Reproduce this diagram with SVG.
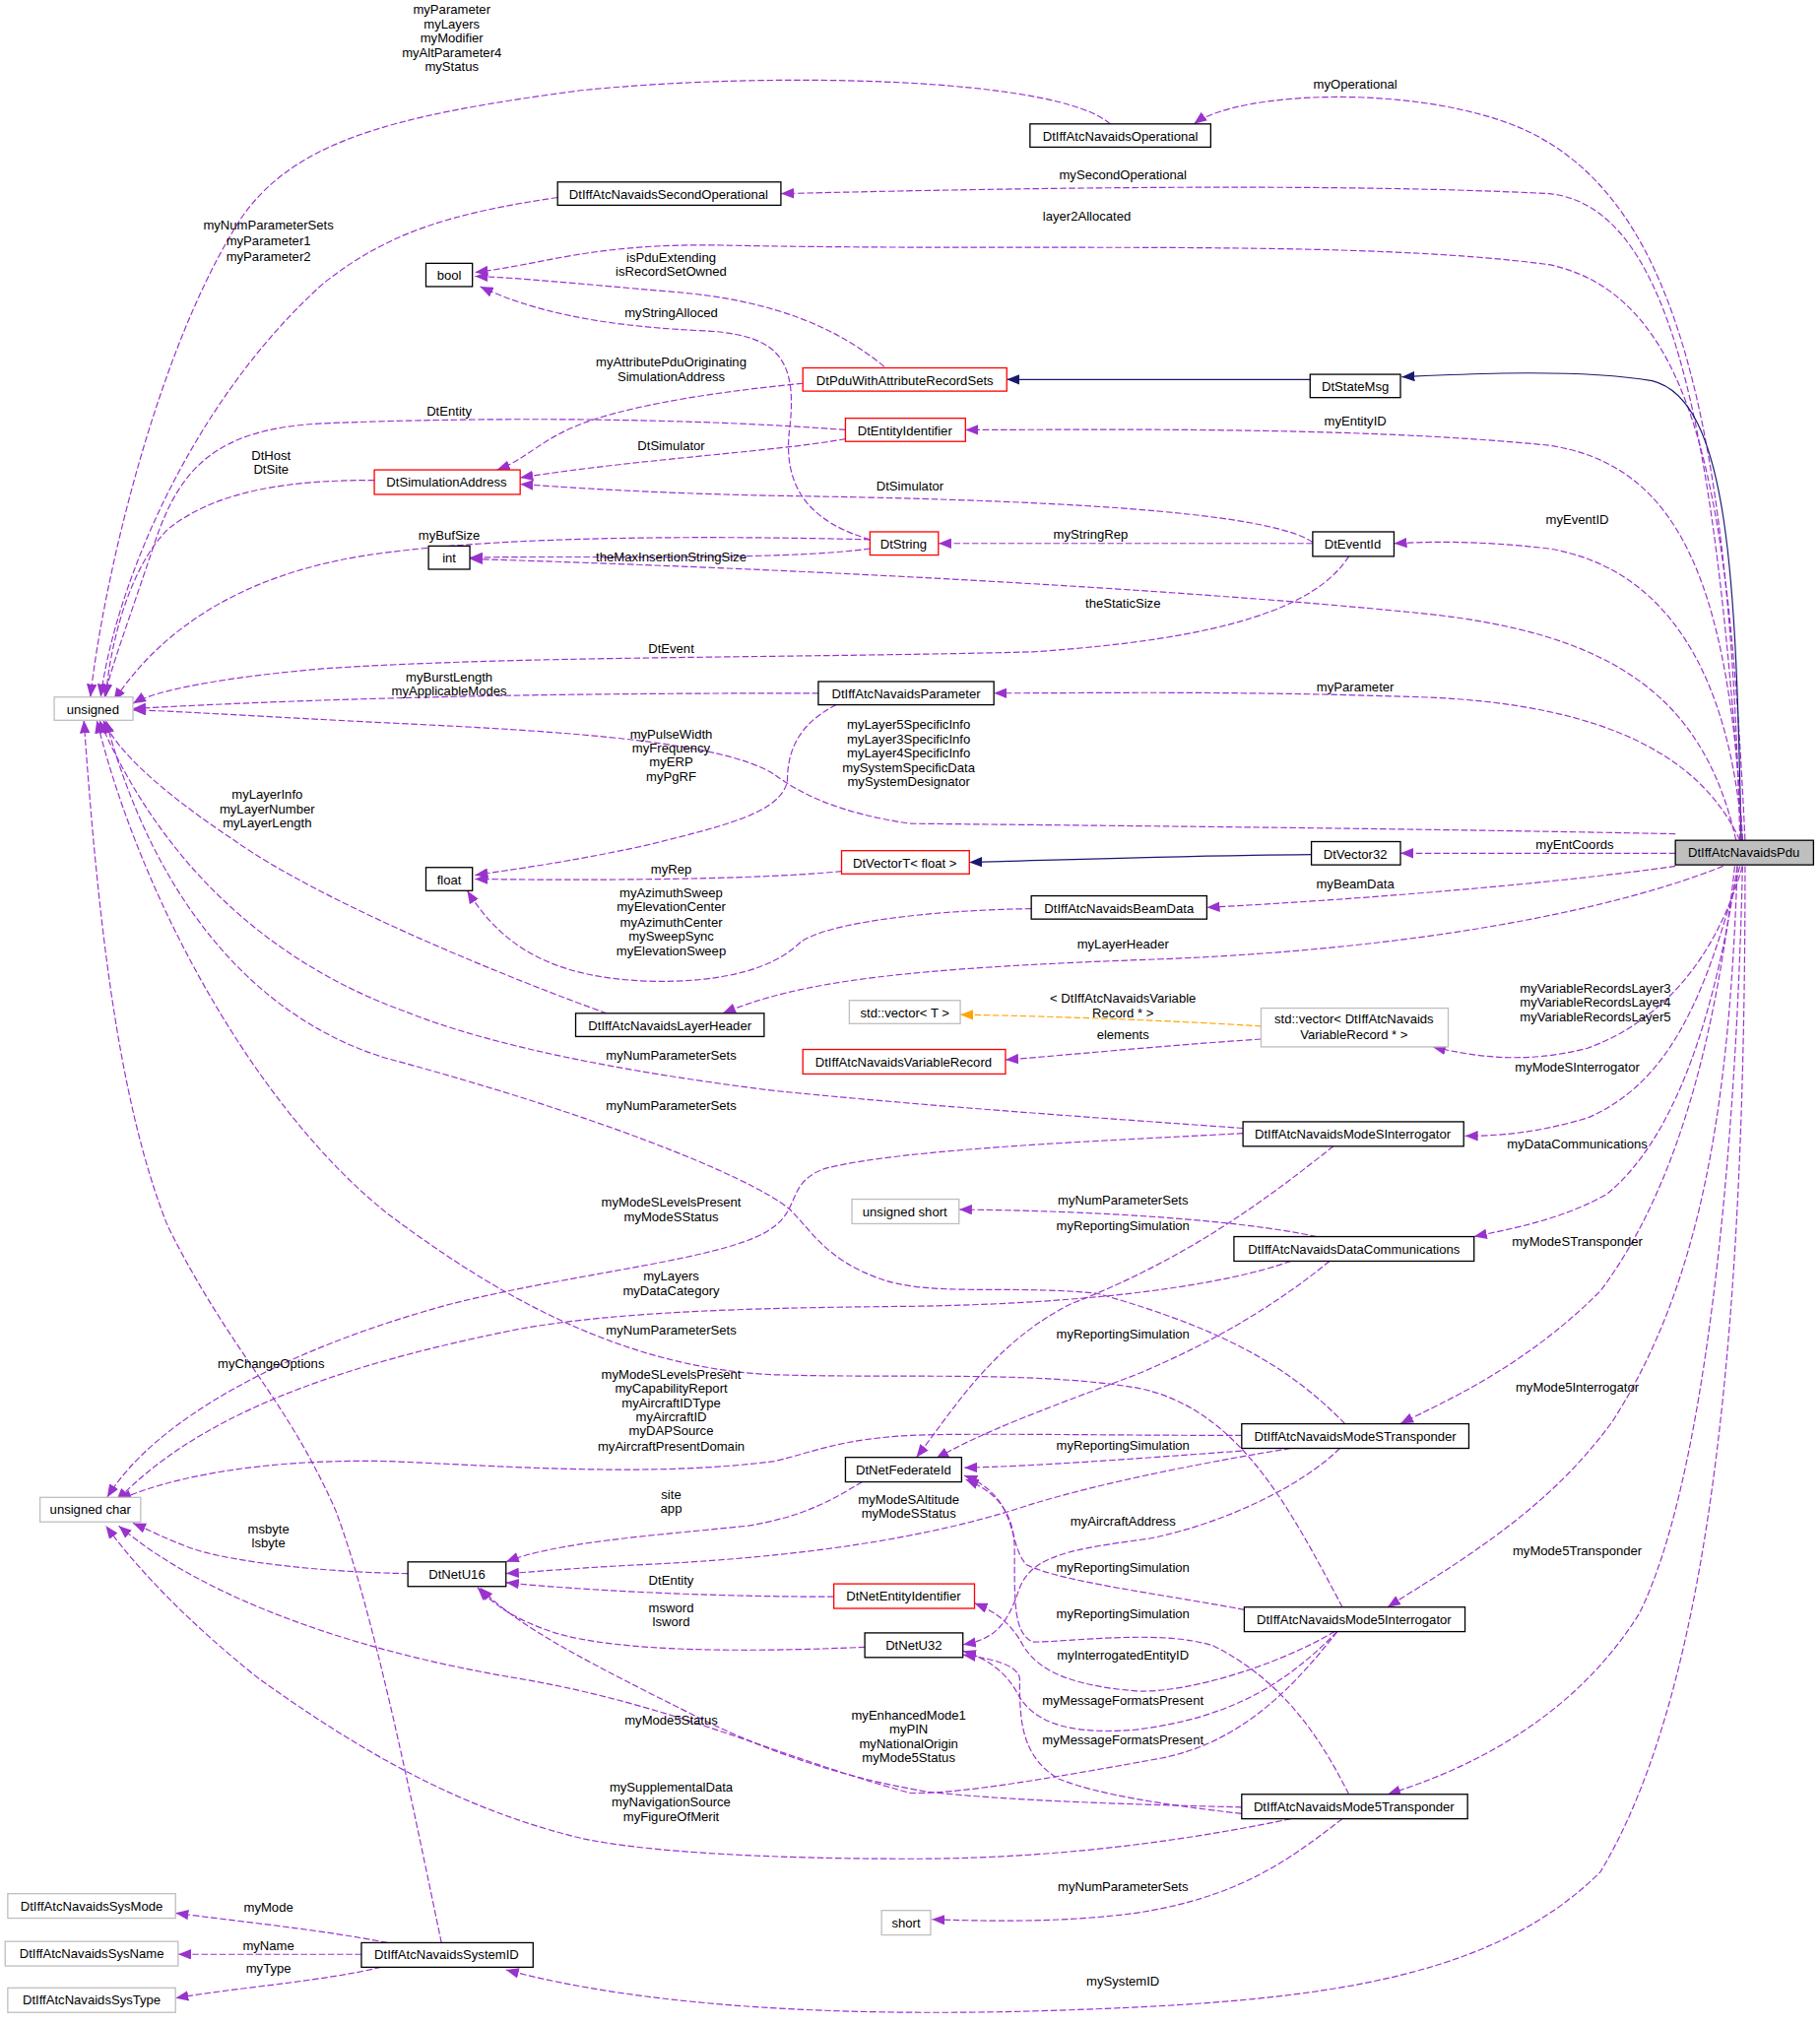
<svg xmlns="http://www.w3.org/2000/svg" width="1848" height="2056" viewBox="0 0 1848 2056">
<style>
text{font-family:"Liberation Sans",Arial,sans-serif;font-size:10px;fill:#000;text-anchor:middle}
.n rect{fill:#fff;stroke:#000;stroke-width:1}
.r rect{stroke:#ff0000}
.g rect{stroke:#bfbfbf}
.e path{fill:none;stroke:#9a32cd;stroke-width:0.9;stroke-dasharray:5,2;marker-end:url(#ap)}
.e path.s{stroke:#191970;stroke-dasharray:none;marker-end:url(#an)}
.e path.o{stroke:#ffa500;marker-end:url(#ao)}
</style>
<defs>
<marker id="ap" markerUnits="userSpaceOnUse" markerWidth="10" markerHeight="8" refX="10" refY="4" orient="auto"><path d="M0,0L10,4L0,8z" fill="#9a32cd"/></marker>
<marker id="an" markerUnits="userSpaceOnUse" markerWidth="10" markerHeight="8" refX="10" refY="4" orient="auto"><path d="M0,0L10,4L0,8z" fill="#191970"/></marker>
<marker id="ao" markerUnits="userSpaceOnUse" markerWidth="10" markerHeight="8" refX="10" refY="4" orient="auto"><path d="M0,0L10,4L0,8z" fill="#ffa500"/></marker>
</defs>
<rect width="1848" height="2056" fill="#fff"/>
<g transform="scale(1.3106)">
<g id="edges" class="e">
<path d="M1348,651 C1340,300 1290,150 1180,100 C1100,65 960,70 925,96"/>
<path d="M860,96 C820,60 600,55 450,70 C300,90 220,110 180,180 C120,280 80,450 70,540"/>
<path d="M1350,651 C1330,350 1300,160 1200,150 C1000,140 700,148 605,150"/>
<path d="M432,153 C350,165 300,180 250,220 C150,310 90,450 78,540"/>
<path d="M1352,651 C1340,400 1320,230 1200,205 C1050,185 800,195 560,190 C460,188 420,205 368,211"/>
<path d="M685,284 C650,255 600,232 520,226 C450,220 400,215 368,214"/>
<path d="M674,418 C630,405 605,380 612,330 C618,275 600,258 540,256 C460,252 410,240 372,222"/>
<path d="M622,297 C560,303 500,312 460,325 C420,338 410,355 385,364"/>
<path class="s" d="M1015,294 L780,294"/>
<path class="s" d="M1349,651 C1345,450 1340,310 1280,295 C1220,285 1130,290 1086,292"/>
<path d="M655,333 C550,325 400,322 250,328 C170,332 140,360 120,420 C100,480 85,520 81,540"/>
<path d="M655,340 C600,350 500,355 403,370"/>
<path d="M1350,651 C1340,450 1300,360 1200,345 C1050,330 850,333 748,333"/>
<path d="M290,372 C230,372 170,378 130,410 C100,440 85,500 82,540"/>
<path d="M1017,420 C980,395 800,387 600,384 C500,382 430,377 403,375"/>
<path d="M1017,421 L727,421"/>
<path d="M1350,651 C1340,520 1290,440 1200,425 C1140,418 1100,420 1080,421"/>
<path d="M674,418 C550,415 400,415 300,428 C200,440 130,480 88,543"/>
<path d="M674,425 C600,435 450,430 364,432"/>
<path d="M1345,651 C1320,540 1250,490 1100,475 C900,455 600,440 364,433"/>
<path d="M1045,431 C1020,470 950,495 800,505 C600,510 400,508 250,518 C170,525 120,535 103,545"/>
<path d="M634,537 C500,537 300,538 103,549"/>
<path d="M1348,651 C1320,590 1250,545 1100,540 C950,535 850,537 770,537"/>
<path d="M648,546 C620,560 610,580 610,605 C605,630 560,640 500,655 C440,668 400,673 368,678"/>
<path d="M1298,646 C1100,642 900,640 705,638 C650,630 620,615 600,600 C560,575 450,567 300,560 C200,555 140,551 103,550"/>
<path d="M652,675 C580,682 450,682 368,681"/>
<path class="s" d="M1016,662 C900,663 800,667 751,668"/>
<path d="M1298,661 L1085,661"/>
<path d="M799,704 C720,705 640,715 620,730 C600,750 560,762 500,760 C430,757 390,735 362,690"/>
<path d="M1298,671 C1200,685 1050,697 935,703"/>
<path d="M1335,671 C1250,705 1100,735 900,743 C700,750 620,760 560,785"/>
<path d="M470,785 C400,760 250,700 180,650 C120,610 90,580 80,558"/>
<path class="o" d="M977,795 C900,790 800,787 744,786"/>
<path d="M977,805 C900,810 820,818 779,821"/>
<path d="M1350,671 C1330,740 1290,790 1230,812 C1180,825 1140,818 1110,811"/>
<path d="M963,874 C850,866 720,857 600,845 C480,830 380,810 315,784 C220,750 130,680 77,558"/>
<path d="M1348,671 C1320,780 1290,840 1230,866 C1190,878 1160,880 1135,880"/>
<path d="M963,878 C850,884 700,890 640,905 C610,915 620,935 600,950 C570,975 450,985 350,1010 C220,1045 120,1100 83,1160"/>
<path d="M1033,888 C980,930 920,975 830,1010 C770,1040 740,1090 710,1129"/>
<path d="M1020,958 C960,945 850,938 743,937"/>
<path d="M1346,671 C1330,780 1300,880 1245,925 C1210,945 1170,952 1142,958"/>
<path d="M1000,977 C950,995 850,1010 705,1012 C600,1013 480,1015 400,1030 C250,1060 150,1100 90,1163"/>
<path d="M1030,977 C990,1010 940,1040 880,1065 C800,1095 760,1110 725,1130"/>
<path d="M1042,1103 C1000,1060 950,1030 850,1002 C780,995 720,1005 680,990 C640,975 630,955 612,937 C580,910 450,860 300,820 C200,790 120,700 82,558"/>
<path d="M1040,1245 C1000,1170 960,1090 880,1075 C800,1062 700,1068 600,1065 C480,1060 380,1000 300,940 C200,860 110,700 75,558"/>
<path d="M1344,671 C1330,800 1300,920 1240,1000 C1180,1060 1120,1085 1085,1103"/>
<path d="M962,1112 C850,1112 750,1110 705,1112 C650,1115 630,1125 600,1132 C500,1145 380,1135 300,1132 C200,1130 130,1145 92,1162"/>
<path d="M962,1124 C880,1130 800,1136 747,1137"/>
<path d="M1000,1122 C920,1135 850,1150 800,1165 C740,1185 650,1205 500,1212 C440,1215 410,1218 392,1219"/>
<path d="M1038,1122 C1010,1150 950,1180 890,1192 C830,1200 800,1205 790,1230 C780,1260 770,1270 746,1274"/>
<path d="M1346,671 C1340,850 1320,990 1250,1100 C1200,1170 1130,1210 1075,1245"/>
<path d="M964,1247 C900,1235 820,1225 795,1212 C780,1195 790,1160 747,1143"/>
<path d="M1034,1264 C990,1290 920,1312 880,1310 C820,1305 800,1290 790,1270 C780,1255 770,1248 755,1242"/>
<path d="M1036,1264 C1000,1300 960,1330 880,1340 C820,1345 800,1330 790,1315 C780,1295 765,1285 746,1279"/>
<path d="M962,1405 C900,1398 850,1390 820,1378 C790,1360 790,1330 790,1300 C788,1290 770,1285 746,1282"/>
<path d="M1045,1390 C1020,1340 990,1300 940,1275 C900,1262 830,1272 800,1272 C785,1265 786,1240 786,1200 C786,1170 770,1155 748,1146"/>
<path d="M1350,671 C1345,900 1320,1150 1270,1250 C1220,1330 1140,1370 1075,1390"/>
<path d="M1040,1409 C1000,1440 960,1470 880,1482 C820,1490 760,1488 722,1487"/>
<path d="M1352,671 C1352,1000 1330,1300 1240,1450 C1150,1540 1000,1552 800,1558 C650,1562 500,1555 392,1526"/>
<path d="M962,1400 C880,1398 780,1395 718,1388 C640,1375 580,1350 540,1330 C460,1290 400,1260 372,1230"/>
<path d="M1036,1264 C1000,1310 960,1350 900,1362 C800,1380 740,1390 705,1389 C600,1360 520,1320 400,1300 C280,1280 160,1240 92,1182"/>
<path d="M1000,1409 C900,1430 800,1440 705,1440 C600,1440 500,1435 450,1424 C350,1400 270,1350 200,1300 C150,1260 110,1220 82,1182"/>
<path d="M668,1148 C640,1165 620,1175 580,1182 C500,1190 430,1195 392,1210"/>
<path d="M646,1237 C550,1237 450,1232 392,1226"/>
<path d="M670,1276 C580,1280 480,1280 430,1265 C400,1255 385,1245 370,1230"/>
<path d="M316,1219 C250,1218 180,1210 150,1200 C130,1193 115,1185 103,1180"/>
<path d="M342,1505 C320,1400 290,1250 260,1170 C220,1080 180,1050 130,950 C90,850 75,700 65,558"/>
<path d="M300,1505 C250,1495 180,1488 136,1482"/>
<path d="M280,1514 L138,1514"/>
<path d="M295,1524 C250,1535 180,1540 136,1548"/>
</g>
<g id="edge-labels">
<text x="1050" y="69">myOperational</text>
<text x="350" y="11">myParameter</text><text x="350" y="22">myLayers</text><text x="350" y="33">myModifier</text><text x="350" y="44">myAltParameter4</text><text x="350" y="55">myStatus</text>
<text x="870" y="139">mySecondOperational</text>
<text x="208" y="178">myNumParameterSets</text><text x="208" y="190">myParameter1</text><text x="208" y="202">myParameter2</text>
<text x="842" y="171">layer2Allocated</text>
<text x="520" y="203">isPduExtending</text><text x="520" y="214">isRecordSetOwned</text>
<text x="520" y="246">myStringAlloced</text>
<text x="520" y="284">myAttributePduOriginating</text><text x="520" y="295">SimulationAddress</text>
<text x="348" y="322">DtEntity</text>
<text x="520" y="349">DtSimulator</text>
<text x="1050" y="330">myEntityID</text>
<text x="210" y="356">DtHost</text><text x="210" y="367">DtSite</text>
<text x="705" y="380">DtSimulator</text>
<text x="845" y="417">myStringRep</text>
<text x="1222" y="406">myEventID</text>
<text x="348" y="418">myBufSize</text>
<text x="520" y="435">theMaxInsertionStringSize</text>
<text x="870" y="471">theStaticSize</text>
<text x="520" y="506">DtEvent</text>
<text x="348" y="528">myBurstLength</text><text x="348" y="539">myApplicableModes</text>
<text x="1050" y="536">myParameter</text>
<text x="520" y="572">myPulseWidth</text><text x="520" y="583">myFrequency</text><text x="520" y="594">myERP</text><text x="520" y="605">myPgRF</text>
<text x="704" y="565">myLayer5SpecificInfo</text><text x="704" y="576">myLayer3SpecificInfo</text><text x="704" y="587">myLayer4SpecificInfo</text><text x="704" y="598">mySystemSpecificData</text><text x="704" y="609">mySystemDesignator</text>
<text x="207" y="619">myLayerInfo</text><text x="207" y="630">myLayerNumber</text><text x="207" y="641">myLayerLength</text>
<text x="520" y="677">myRep</text>
<text x="1220" y="658">myEntCoords</text>
<text x="520" y="695">myAzimuthSweep</text><text x="520" y="706">myElevationCenter</text><text x="520" y="718">myAzimuthCenter</text><text x="520" y="729">mySweepSync</text><text x="520" y="740">myElevationSweep</text>
<text x="1050" y="688">myBeamData</text>
<text x="870" y="735">myLayerHeader</text>
<text x="870" y="777">&lt; DtIffAtcNavaidsVariable</text><text x="870" y="788">Record * &gt;</text>
<text x="870" y="805">elements</text>
<text x="1236" y="769">myVariableRecordsLayer3</text><text x="1236" y="780">myVariableRecordsLayer4</text><text x="1236" y="791">myVariableRecordsLayer5</text>
<text x="520" y="821">myNumParameterSets</text>
<text x="1222" y="830">myModeSInterrogator</text>
<text x="520" y="860">myNumParameterSets</text>
<text x="520" y="935">myModeSLevelsPresent</text><text x="520" y="946">myModeSStatus</text>
<text x="870" y="933">myNumParameterSets</text>
<text x="870" y="953">myReportingSimulation</text>
<text x="1222" y="890">myDataCommunications</text>
<text x="520" y="992">myLayers</text><text x="520" y="1003">myDataCategory</text>
<text x="1222" y="965">myModeSTransponder</text>
<text x="870" y="1037">myReportingSimulation</text>
<text x="520" y="1034">myNumParameterSets</text>
<text x="210" y="1060">myChangeOptions</text>
<text x="1222" y="1078">myMode5Interrogator</text>
<text x="520" y="1068">myModeSLevelsPresent</text><text x="520" y="1079">myCapabilityReport</text><text x="520" y="1090">myAircraftIDType</text><text x="520" y="1101">myAircraftID</text><text x="520" y="1112">myDAPSource</text><text x="520" y="1124">myAircraftPresentDomain</text>
<text x="870" y="1123">myReportingSimulation</text>
<text x="520" y="1161">site</text><text x="520" y="1172">app</text>
<text x="704" y="1165">myModeSAltitude</text><text x="704" y="1176">myModeSStatus</text>
<text x="870" y="1182">myAircraftAddress</text>
<text x="208" y="1188">msbyte</text><text x="208" y="1199">lsbyte</text>
<text x="1222" y="1205">myMode5Transponder</text>
<text x="870" y="1218">myReportingSimulation</text>
<text x="520" y="1228">DtEntity</text>
<text x="520" y="1249">msword</text><text x="520" y="1260">lsword</text>
<text x="870" y="1254">myReportingSimulation</text>
<text x="870" y="1286">myInterrogatedEntityID</text>
<text x="870" y="1321">myMessageFormatsPresent</text>
<text x="520" y="1336">myMode5Status</text>
<text x="704" y="1332">myEnhancedMode1</text><text x="704" y="1343">myPIN</text><text x="704" y="1354">myNationalOrigin</text><text x="704" y="1365">myMode5Status</text>
<text x="870" y="1351">myMessageFormatsPresent</text>
<text x="520" y="1388">mySupplementalData</text><text x="520" y="1399">myNavigationSource</text><text x="520" y="1411">myFigureOfMerit</text>
<text x="870" y="1465">myNumParameterSets</text>
<text x="208" y="1481">myMode</text>
<text x="208" y="1511">myName</text>
<text x="208" y="1528">myType</text>
<text x="870" y="1538">mySystemID</text>
</g>
<g id="Operational" class="n"><rect x="798" y="96" width="140" height="18"/><text x="868" y="109">DtIffAtcNavaidsOperational</text></g>
<g id="SecondOperational" class="n"><rect x="432" y="141" width="173" height="18"/><text x="518" y="154">DtIffAtcNavaidsSecondOperational</text></g>
<g id="bool" class="n"><rect x="330" y="204" width="36" height="18"/><text x="348" y="217">bool</text></g>
<g id="PduWithAttributeRecordSets" class="n r"><rect x="622" y="285" width="158" height="18"/><text x="701" y="298">DtPduWithAttributeRecordSets</text></g>
<g id="StateMsg" class="n"><rect x="1015" y="290" width="70" height="18"/><text x="1050" y="303">DtStateMsg</text></g>
<g id="EntityIdentifier" class="n r"><rect x="655" y="324" width="93" height="18"/><text x="701" y="337">DtEntityIdentifier</text></g>
<g id="SimulationAddress" class="n r"><rect x="290" y="364" width="113" height="19"/><text x="346" y="377">DtSimulationAddress</text></g>
<g id="DtString" class="n r"><rect x="674" y="412" width="53" height="18"/><text x="700" y="425">DtString</text></g>
<g id="EventId" class="n"><rect x="1017" y="412" width="63" height="19"/><text x="1048" y="425">DtEventId</text></g>
<g id="int" class="n"><rect x="332" y="423" width="32" height="18"/><text x="348" y="436">int</text></g>
<g id="unsigned" class="n g"><rect x="42" y="540" width="61" height="18"/><text x="72" y="553">unsigned</text></g>
<g id="Parameter" class="n"><rect x="634" y="528" width="136" height="18"/><text x="702" y="541">DtIffAtcNavaidsParameter</text></g>
<g id="float" class="n"><rect x="330" y="672" width="36" height="18"/><text x="348" y="685">float</text></g>
<g id="VectorT" class="n r"><rect x="652" y="659" width="99" height="18"/><text x="701" y="672">DtVectorT&lt; float &gt;</text></g>
<g id="Vector32" class="n"><rect x="1016" y="652" width="69" height="18"/><text x="1050" y="665">DtVector32</text></g>
<g id="Pdu" class="n"><rect x="1298" y="651" width="107" height="19" style="fill:#bfbfbf"/><text x="1351" y="664">DtIffAtcNavaidsPdu</text></g>
<g id="BeamData" class="n"><rect x="799" y="694" width="136" height="18"/><text x="867" y="707">DtIffAtcNavaidsBeamData</text></g>
<g id="LayerHeader" class="n"><rect x="446" y="785" width="146" height="18"/><text x="519" y="798">DtIffAtcNavaidsLayerHeader</text></g>
<g id="stdvectorT" class="n g"><rect x="658" y="775" width="86" height="18"/><text x="701" y="788">std::vector&lt; T &gt;</text></g>
<g id="VariableRecord" class="n r"><rect x="622" y="813" width="157" height="19"/><text x="700" y="826">DtIffAtcNavaidsVariableRecord</text></g>
<g id="stdvectorVR" class="n g"><rect x="977" y="781" width="145" height="30"/><text x="1049" y="793">std::vector&lt; DtIffAtcNavaids</text><text x="1049" y="805">VariableRecord * &gt;</text></g>
<g id="ModeSInterrogator" class="n"><rect x="963" y="869" width="171" height="19"/><text x="1048" y="882">DtIffAtcNavaidsModeSInterrogator</text></g>
<g id="ushort" class="n g"><rect x="660" y="929" width="83" height="19"/><text x="701" y="942">unsigned short</text></g>
<g id="DataCommunications" class="n"><rect x="956" y="958" width="186" height="19"/><text x="1049" y="971">DtIffAtcNavaidsDataCommunications</text></g>
<g id="uchar" class="n g"><rect x="31" y="1160" width="78" height="19"/><text x="70" y="1173">unsigned char</text></g>
<g id="ModeSTransponder" class="n"><rect x="962" y="1103" width="176" height="19"/><text x="1050" y="1116">DtIffAtcNavaidsModeSTransponder</text></g>
<g id="NetFederateId" class="n"><rect x="655" y="1129" width="90" height="19"/><text x="700" y="1142">DtNetFederateId</text></g>
<g id="NetU16" class="n"><rect x="316" y="1210" width="76" height="19"/><text x="354" y="1223">DtNetU16</text></g>
<g id="NetEntityIdentifier" class="n r"><rect x="646" y="1227" width="109" height="19"/><text x="700" y="1240">DtNetEntityIdentifier</text></g>
<g id="NetU32" class="n"><rect x="670" y="1265" width="76" height="19"/><text x="708" y="1278">DtNetU32</text></g>
<g id="Mode5Interrogator" class="n"><rect x="964" y="1245" width="171" height="19"/><text x="1049" y="1258">DtIffAtcNavaidsMode5Interrogator</text></g>
<g id="Mode5Transponder" class="n"><rect x="962" y="1390" width="175" height="19"/><text x="1049" y="1403">DtIffAtcNavaidsMode5Transponder</text></g>
<g id="short" class="n g"><rect x="683" y="1480" width="38" height="19"/><text x="702" y="1493">short</text></g>
<g id="SysMode" class="n g"><rect x="6" y="1467" width="130" height="19"/><text x="71" y="1480">DtIffAtcNavaidsSysMode</text></g>
<g id="SysName" class="n g"><rect x="4" y="1504" width="134" height="19"/><text x="71" y="1517">DtIffAtcNavaidsSysName</text></g>
<g id="SystemID" class="n"><rect x="280" y="1505" width="133" height="19"/><text x="346" y="1518">DtIffAtcNavaidsSystemID</text></g>
<g id="SysType" class="n g"><rect x="6" y="1540" width="130" height="19"/><text x="71" y="1553">DtIffAtcNavaidsSysType</text></g>
</g>
</svg>
